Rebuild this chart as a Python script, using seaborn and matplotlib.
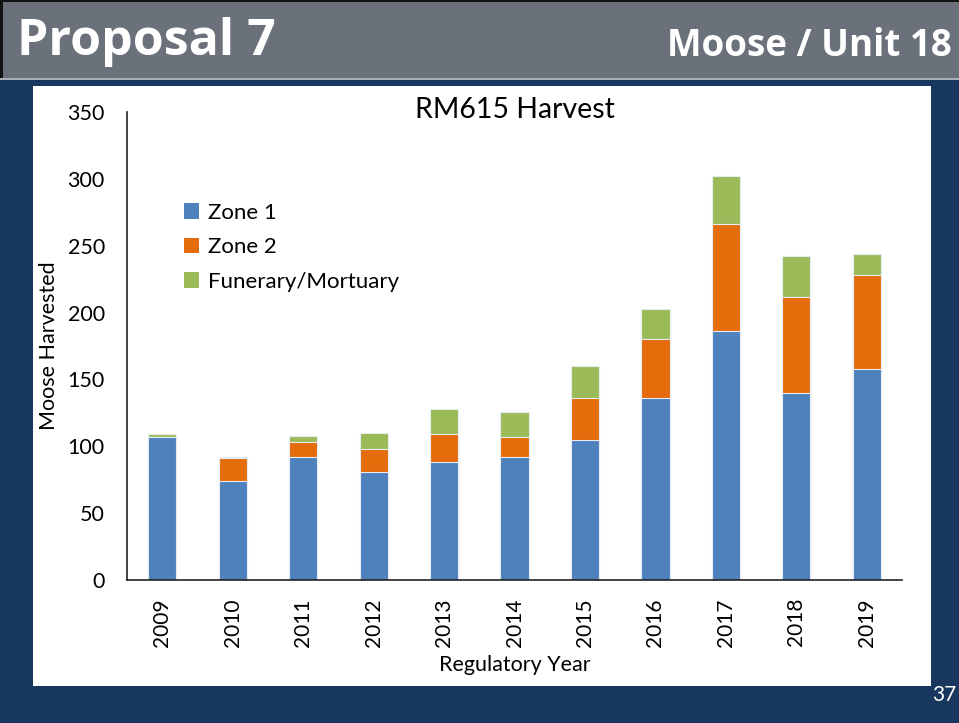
import matplotlib
matplotlib.use("Agg")
import matplotlib.pyplot as plt
import seaborn as sns
import numpy as np
import pandas as pd
from matplotlib.patches import Rectangle

years = ["2009", "2010", "2011", "2012", "2013", "2014", "2015", "2016", "2017", "2018", "2019"]
zone1 = [107, 74, 92, 81, 88, 92, 105, 136, 186, 140, 158]
zone2 = [0, 17, 11, 17, 21, 15, 31, 44, 80, 72, 70]
funerary = [2, 1, 5, 12, 19, 19, 24, 23, 36, 30, 16]
series_names = ["Zone 1", "Zone 2", "Funerary/Mortuary"]
colors = ["#4F81BD", "#E46C0A", "#9BBB59"]
yticks = [0, 50, 100, 150, 200, 250, 300, 350]

sns.set_theme(style="white")
plt.rcParams["font.family"] = ["Lato", "DejaVu Sans"]
plt.rcParams["text.color"] = "black"
plt.rcParams["axes.labelcolor"] = "black"
plt.rcParams["xtick.color"] = "black"
plt.rcParams["ytick.color"] = "black"

W, H = 959, 723
fig = plt.figure(figsize=(W / 100, H / 100), dpi=100)
fig.patch.set_facecolor("#17375E")

def rect(x0, y0, x1, y1, **kw):
    # pixel coords (top-left origin) -> figure fraction
    fig.patches.append(Rectangle((x0 / W, 1 - y1 / H), (x1 - x0) / W, (y1 - y0) / H,
                                 transform=fig.transFigure, figure=fig, zorder=-10, **kw))

# header band
rect(0, 0, W, 79, facecolor="#6B717A", edgecolor="none")
rect(0, 0, W, 2, facecolor="#111111", edgecolor="none")
rect(0, 0, 3, 79, facecolor="#111111", edgecolor="none")
rect(0, 78, W, 80, facecolor="#A9AEB5", edgecolor="none")
# white panel
rect(33, 86, 931, 686, facecolor="white", edgecolor="none")

fig.text(17 / W, 1 - 42 / H, "Proposal 7", color="white", fontsize=36, fontweight="bold",
         family=["Open Sans", "DejaVu Sans"], va="center", ha="left")
fig.text(952 / W, 1 - 46 / H, "Moose / Unit 18", color="white", fontsize=26.5, fontweight="bold",
         family=["Open Sans", "DejaVu Sans"], va="center", ha="right")
fig.text(956 / W, 1 - 695 / H, "37", color="white", fontsize=15, va="center", ha="right")

ax = fig.add_axes([127 / W, 1 - 580 / H, (902 - 127) / W, (580 - 112) / H])
ax.set_facecolor("white")

z1 = np.array(zone1)
z2 = np.array(zone2)
fm = np.array(funerary)
tops = [z1 + z2 + fm, z1 + z2, z1]
layer_colors = [colors[2], colors[1], colors[0]]
for vals, c in zip(tops, layer_colors):
    df = pd.DataFrame({"year": years, "value": vals})
    sns.barplot(data=df, x="year", y="value", color=c, width=0.4, ax=ax,
                saturation=1, edgecolor="#E6ECF4", linewidth=0.8)

ax.set_xlim(-0.5, len(years) - 0.5)
ax.set_ylim(0, 350)
ax.set_yticks(yticks)
ax.set_yticklabels([str(t) for t in yticks], fontsize=15.5)
ax.set_xticks(range(len(years)))
ax.set_xticklabels(years, rotation=90, fontsize=15)
ax.tick_params(axis="x", pad=13, length=0)
ax.tick_params(axis="y", pad=16, length=0)
ax.set_xlabel("Regulatory Year", fontsize=15.5, labelpad=6)
ax.set_ylabel("Moose Harvested", fontsize=15.5, labelpad=6)
ax.set_title("RM615 Harvest", fontsize=20.5, pad=-4)
for s in ["top", "right"]:
    ax.spines[s].set_visible(False)
for s in ["left", "bottom"]:
    ax.spines[s].set_color("#222222")
    ax.spines[s].set_linewidth(1.2)

handles = [Rectangle((0, 0), 1, 1, facecolor=c, edgecolor="none") for c in colors]
ax.legend(handles, series_names, loc="upper left", bbox_to_anchor=(0.062, 0.825),
          frameon=False, fontsize=16, handlelength=0.7, handleheight=0.7,
          handletextpad=0.4, labelspacing=0.65, borderaxespad=0)

fig.savefig("out.png", dpi=100, facecolor=fig.get_facecolor())
